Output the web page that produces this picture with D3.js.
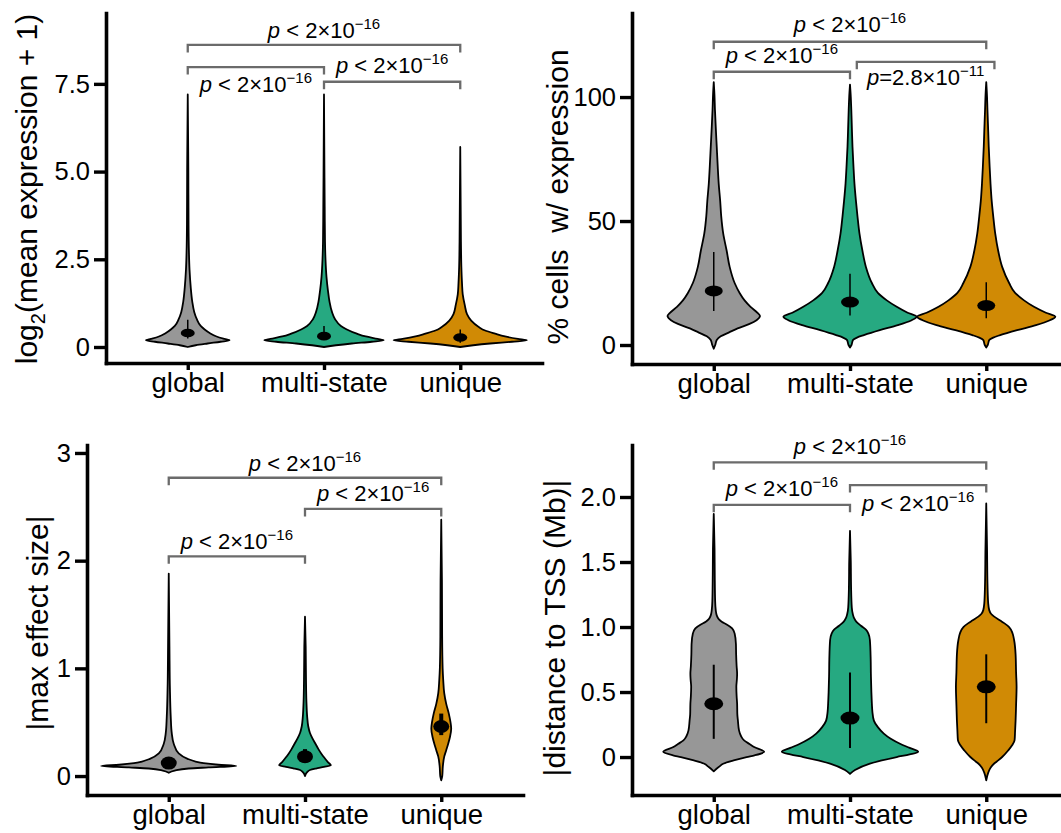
<!DOCTYPE html>
<html><head><meta charset="utf-8">
<script src="https://cdn.jsdelivr.net/npm/d3@7"></script>
<style>
html,body{margin:0;padding:0;background:#fff;}
svg{display:block;}
text{font-family:"Liberation Sans",Arial,Helvetica,sans-serif;white-space:pre;}
</style></head><body>
<svg id="chart" width="1061" height="833"></svg>
<script>
const categories = ["global", "multi-state", "unique"];
const fillColors = ["#979797", "#26a981", "#d08a05"];

// ---- Panel A: log2(mean expression + 1) ; profiles = [value, density(half-width)]
const exprGlobal = [[0,0],[0.05,8],[0.1,20],[0.15,33],[0.19,42],[0.23,37],[0.3,29],[0.4,22],[0.5,17],[0.6,13],[0.8,9],[1.0,6.5],[1.3,4.5],[1.7,3],[2.2,1.8],[2.7,1.2],[3.5,0.8],[5,0.6],[7.2,0]];
const exprMulti = [[0,0],[0.05,12],[0.1,28],[0.15,48],[0.19,60],[0.23,54],[0.3,42],[0.38,33],[0.5,23],[0.6,17],[0.8,11],[1.0,8],[1.3,5.5],[1.6,4],[2.0,2.5],[2.5,1.5],[3,1],[4,0.7],[7.2,0]];
const exprUnique = [[0,0],[0.05,13],[0.1,30],[0.15,52],[0.19,67],[0.23,58],[0.3,45],[0.38,35],[0.47,25],[0.57,18.6],[0.75,11],[0.94,6.8],[1.2,4.5],[1.5,2.5],[1.8,1.8],[2.3,1.1],[3,0.7],[5.7,0]];
const exprMedian = [0.40, 0.31, 0.27];
const exprLow = [0.24, 0.20, 0.12];
const exprHigh = [0.78, 0.60, 0.50];
const exprTicks = [0, 2.5, 5, 7.5];
const exprTickLabels = ["0", "2.5", "5.0", "7.5"];
const exprBracketFrom = [0, 0, 1];
const exprBracketTo = [2, 1, 2];
const exprBracketY = [8.61, 7.98, 7.56];
const exprLabelY = [8.81, 7.27, 7.81];
const exprLabels = ["p < 2×10^−16", "p < 2×10^−16", "p < 2×10^−16"];

// ---- Panel B: % cells w/ expression
const cellsGlobal = [[-1.5,0],[0,1.5],[2,3],[3.5,7],[5,15],[6.7,24],[8.5,36],[10,43],[11.7,46.5],[13,44],[15.4,37],[18,31],[21,26],[25,21],[31.5,16],[38,13],[45,9.5],[52,7.5],[58,6.5],[65,5],[72,4],[80,3],[88,2],[95,1.2],[101,0.7],[106,0]];
const cellsMulti = [[-1,0],[0,1.5],[2,3],[3,7],[4,14],[6,30],[8,48],[10,62],[11.4,67],[13,58],[15.4,47],[18,37],[21,28],[25,22],[31.5,16],[38,12.5],[45,9.5],[52,7.5],[58,6],[65,4.5],[72,3.5],[80,2.5],[86,2],[95,1.3],[100,0.8],[105,0]];
const cellsUnique = [[-1,0],[0,1.5],[2,3],[3,7],[4,14],[6,31],[8,50],[10,64],[11.4,69.5],[13,60],[15.4,48],[18,38],[21,29],[25,23],[31.5,16],[38,12],[45,9],[52,7],[58,5.5],[65,4.3],[72,3.4],[80,2.5],[86,2],[95,1.2],[100,0.8],[106,0]];
const cellsMedian = [21.8, 17.3, 15.9];
const cellsLow = [13.7, 11.9, 10.8];
const cellsHigh = [37.5, 28.7, 25.3];
const cellsTicks = [0, 50, 100];
const cellsTickLabels = ["0", "50", "100"];
const cellsBracketFrom = [0, 0, 1.05];
const cellsBracketTo = [2, 1, 2.06];
const cellsBracketY = [122.3, 110.2, 114.2];
const cellsLabelY = [126.3, 113.7, 104.8];
const cellsLabels = ["p < 2×10^−16", "p < 2×10^−16", "p=2.8×10^−11"];

// ---- Panel C: |max effect size|
const effectGlobal = [[0.03,0],[0.05,6],[0.07,20],[0.08,40],[0.093,68],[0.105,50],[0.12,35],[0.135,27],[0.16,19],[0.21,10],[0.3,5],[0.4,3],[0.55,2],[0.8,1.2],[1.2,0.7],[1.88,0]];
const effectMulti = [[0,0],[0.04,2.5],[0.056,5],[0.07,11],[0.085,19],[0.1,26],[0.13,23],[0.17,19.5],[0.2,17],[0.25,13.5],[0.3,10.5],[0.35,7.5],[0.4,5],[0.46,3.3],[0.55,2.2],[0.7,1.4],[0.9,1],[1.2,0.7],[1.48,0]];
const effectUnique = [[-0.04,0],[0,1],[0.09,1.6],[0.18,3],[0.24,5],[0.3,7],[0.36,8.7],[0.44,10],[0.5,9.3],[0.58,7.6],[0.67,5],[0.77,3],[0.89,2],[1.0,1.4],[1.3,0.9],[1.8,0.7],[2.38,0]];
const effectMedian = [0.12, 0.18, 0.46];
const effectLow = [0.08, 0.13, 0.38];
const effectHigh = [0.16, 0.25, 0.58];
const effectTicks = [0, 1, 2, 3];
const effectTickLabels = ["0", "1", "2", "3"];
const effectBracketFrom = [0, 1, 0];
const effectBracketTo = [2, 2, 1];
const effectBracketY = [2.77, 2.48, 2.04];
const effectLabelY = [2.83, 2.55, 2.11];
const effectLabels = ["p < 2×10^−16", "p < 2×10^−16", "p < 2×10^−16"];

// ---- Panel D: |distance to TSS (Mb)|
const distGlobal = [[-0.11,0],[-0.077,5],[-0.05,10],[-0.026,20],[0,33],[0.013,41],[0.04,50.8],[0.077,40.6],[0.1,36],[0.128,30.5],[0.16,27.5],[0.205,25.4],[0.28,24.3],[0.33,23.7],[0.41,23.5],[0.47,23],[0.54,22.7],[0.6,23.3],[0.64,23.5],[0.7,23],[0.79,22.5],[0.87,22.3],[0.95,21],[0.99,18.5],[1.02,13],[1.04,8],[1.06,5],[1.09,3],[1.13,2],[1.2,1.4],[1.4,1],[1.6,0.8],[1.87,0]];
const distMulti = [[-0.13,0],[-0.1,5],[-0.05,20],[0,47],[0.02,60],[0.04,68.6],[0.07,60],[0.1,50.8],[0.14,41],[0.18,34],[0.23,28],[0.28,24],[0.35,22.5],[0.41,22],[0.5,21.5],[0.64,21],[0.75,20.8],[0.9,20],[0.95,18.5],[0.98,16],[1.01,11],[1.04,6.5],[1.07,4],[1.1,2.8],[1.15,1.8],[1.3,1.1],[1.5,0.8],[1.74,0]];
const distUnique = [[-0.18,0],[-0.12,2],[-0.08,4.5],[-0.05,8],[-0.026,12],[0,16],[0.05,22],[0.09,26],[0.13,28.5],[0.2,29],[0.28,29.5],[0.4,30],[0.54,30.5],[0.65,30],[0.79,29.5],[0.9,28],[0.95,26.5],[1.0,23],[1.03,18],[1.05,14],[1.08,8],[1.1,5],[1.13,3],[1.18,2],[1.31,1.3],[1.6,0.8],[1.95,0]];
const distMedian = [0.41, 0.30, 0.54];
const distLow = [0.14, 0.07, 0.26];
const distHigh = [0.71, 0.65, 0.79];
const distTicks = [0, 0.5, 1, 1.5, 2];
const distTickLabels = ["0", "0.5", "1.0", "1.5", "2.0"];
const distBracketFrom = [0, 1, 0];
const distBracketTo = [2, 2, 1];
const distBracketY = [2.267, 2.092, 1.94];
const distLabelY = [2.33, 1.89, 2.01];
const distLabels = ["p < 2×10^−16", "p < 2×10^−16", "p < 2×10^−16"];

// ---- layout (positions / styles)
const panels = [
  {profiles:[exprGlobal,exprMulti,exprUnique], median:exprMedian, low:exprLow, high:exprHigh,
   ticks:exprTicks, tickLabels:exprTickLabels, bFrom:exprBracketFrom, bTo:exprBracketTo, bY:exprBracketY, lY:exprLabelY, labels:exprLabels,
   title:[["log",0],["2",1],["(mean expression + 1)",0]],
   left:106, right:542, top:13, bottom:363, domain:[-0.456, 9.52], titleX:37, titleY:189, rx:7, ry:4.3, barW:1.5},
  {profiles:[cellsGlobal,cellsMulti,cellsUnique], median:cellsMedian, low:cellsLow, high:cellsHigh,
   ticks:cellsTicks, tickLabels:cellsTickLabels, bFrom:cellsBracketFrom, bTo:cellsBracketTo, bY:cellsBracketY, lY:cellsLabelY, labels:cellsLabels,
   title:[["% cells  w/ expression",0]],
   left:632, right:1068, top:13, bottom:364, domain:[-7.66, 133.9], titleX:568, titleY:197, rx:9, ry:5.5, barW:1.5},
  {profiles:[effectGlobal,effectMulti,effectUnique], median:effectMedian, low:effectLow, high:effectHigh,
   ticks:effectTicks, tickLabels:effectTickLabels, bFrom:effectBracketFrom, bTo:effectBracketTo, bY:effectBracketY, lY:effectLabelY, labels:effectLabels,
   title:[["|max effect size|",0]],
   left:87, right:523, top:445, bottom:795, domain:[-0.176, 3.074], titleX:48, titleY:623, rx:8, ry:6.5, barW:4},
  {profiles:[distGlobal,distMulti,distUnique], median:distMedian, low:distLow, high:distHigh,
   ticks:distTicks, tickLabels:distTickLabels, bFrom:distBracketFrom, bTo:distBracketTo, bY:distBracketY, lY:distLabelY, labels:distLabels,
   title:[["|distance to TSS (Mb)|",0]],
   left:632, right:1068, top:445, bottom:795, domain:[-0.292, 2.4], titleX:565, titleY:628, rx:9.5, ry:6.5, barW:2}
];

const svg = d3.select("#chart");

panels.forEach(p => {
  const g = svg.append("g");
  const x = d3.scalePoint().domain(categories).range([p.left, p.right]).padding(0.6);
  const xi = d3.scaleLinear().domain([0, 2]).range([x(categories[0]), x(categories[2])]);
  const y = d3.scaleLinear().domain(p.domain).range([p.bottom, p.top]);
  const w = d3.scaleLinear().domain([0, 137]).range([0, x.step()]);

  // violins
  p.profiles.forEach((prof, i) => {
    const cx = x(categories[i]);
    const area = d3.area().curve(d3.curveMonotoneY)
      .y(d => y(d[0])).x0(d => cx - w(d[1])).x1(d => cx + w(d[1]));
    g.append("path").attr("d", area(prof))
      .attr("fill", fillColors[i]).attr("stroke", "#000").attr("stroke-width", 1.8)
      .attr("stroke-linejoin", "round");
  });
  // summary
  categories.forEach((c, i) => {
    const cx = x(c);
    g.append("line").attr("x1", cx).attr("x2", cx)
      .attr("y1", y(p.low[i])).attr("y2", y(p.high[i]))
      .attr("stroke", "#000").attr("stroke-width", p.barW);
    g.append("ellipse").attr("cx", cx).attr("cy", y(p.median[i]))
      .attr("rx", p.rx).attr("ry", p.ry).attr("fill", "#000");
  });

  // axes
  const ya = g.append("g").attr("transform", `translate(${p.left},0)`)
    .call(d3.axisLeft(y).tickValues(p.ticks).tickFormat((d, i) => p.tickLabels[i])
      .tickSize(12).tickSizeOuter(0).tickPadding(4));
  const xa = g.append("g").attr("transform", `translate(0,${p.bottom})`)
    .call(d3.axisBottom(x).tickSize(7).tickSizeOuter(0).tickPadding(2.5));
  [ya, xa].forEach(a => {
    a.select(".domain").attr("stroke", "#000").attr("stroke-width", 3.6).attr("stroke-linecap", "square");
    a.selectAll(".tick line").attr("stroke", "#000").attr("stroke-width", 3.4);
    a.selectAll("text").attr("fill", "#000").attr("font-family", '"Liberation Sans",Arial,sans-serif');
  });
  ya.selectAll("text").attr("font-size", 25.5);
  xa.selectAll("text").attr("font-size", 27.5);

  // y title
  const t = g.append("text").attr("transform", `translate(${p.titleX},${p.titleY}) rotate(-90)`)
    .attr("text-anchor", "middle").attr("font-size", 30).attr("fill", "#000");
  let prevSub = 0;
  p.title.forEach(([s, sub]) => {
    const ts = t.append("tspan").text(s);
    if (sub) { ts.attr("font-size", 20).attr("dy", 8); }
    else if (prevSub) { ts.attr("dy", -8); }
    prevSub = sub;
  });

  // brackets
  p.bFrom.forEach((f, i) => {
    const x0 = xi(f), x1 = xi(p.bTo[i]), yy = y(p.bY[i]);
    g.append("path")
      .attr("d", `M${x0},${yy + 7.5}V${yy}H${x1}V${yy + 7.5}`)
      .attr("fill", "none").attr("stroke", "#6b6b6b").attr("stroke-width", 2.3);
    const [base, sup] = p.labels[i].split("^");
    const lt = g.append("text").attr("x", (x0 + x1) / 2).attr("y", y(p.lY[i]))
      .attr("text-anchor", "middle").attr("font-size", 22).attr("fill", "#000");
    lt.append("tspan").attr("font-style", "italic").text(base[0]);
    lt.append("tspan").text(base.slice(1));
    lt.append("tspan").attr("font-size", 15).attr("dy", -9).text(sup);
  });
});
</script>
</body></html>
